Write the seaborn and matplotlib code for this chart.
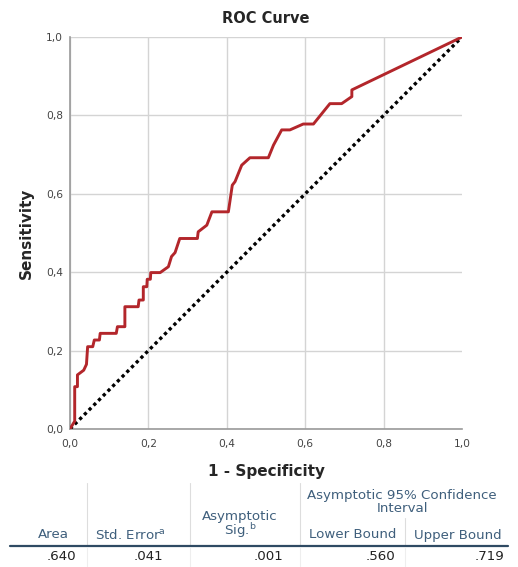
#! /usr/bin/env python3
'''
ROC curve with SPSS-style area-under-curve table
'''
import matplotlib
matplotlib.use('Agg')
import matplotlib.pyplot as plt
from matplotlib.ticker import FuncFormatter
import seaborn as sns

# ROC curve points
FPR = [0.0, 0.012, 0.012, 0.019, 0.019, 0.035, 0.042, 0.045, 0.058, 0.062,
       0.075, 0.077, 0.118, 0.121, 0.140, 0.140, 0.174, 0.176, 0.187, 0.187,
       0.196, 0.197, 0.205, 0.206, 0.230, 0.251, 0.259, 0.268, 0.280, 0.325,
       0.327, 0.349, 0.362, 0.404, 0.414, 0.421, 0.438, 0.459, 0.506, 0.519,
       0.540, 0.561, 0.595, 0.621, 0.646, 0.663, 0.693, 0.719, 0.719, 1.0]
TPR = [0.0, 0.020, 0.108, 0.108, 0.138, 0.150, 0.165, 0.210, 0.210, 0.227,
       0.227, 0.244, 0.244, 0.261, 0.261, 0.312, 0.312, 0.329, 0.329, 0.363,
       0.363, 0.382, 0.382, 0.399, 0.399, 0.414, 0.440, 0.450, 0.486, 0.486,
       0.503, 0.520, 0.554, 0.554, 0.622, 0.631, 0.673, 0.692, 0.692, 0.724,
       0.763, 0.763, 0.778, 0.778, 0.809, 0.830, 0.830, 0.848, 0.865, 1.0]
REF_X = [0.0, 1.0]
REF_Y = [0.0, 1.0]
TICKS = [0.0, 0.2, 0.4, 0.6, 0.8, 1.0]

# table below the chart
HEADERS = ['Area', 'Std. Error$^{\\mathregular{a}}$', 'Asymptotic\nSig.$^{\\mathregular{b}}$',
           'Lower Bound', 'Upper Bound']
VALUES = ['.640', '.041', '.001', '.560', '.719']
CI_HEADER = 'Asymptotic 95% Confidence\nInterval'

W, H = 518, 567
sns.set_style('white')
plt.rcParams['font.family'] = ['DejaVu Sans']

fig = plt.figure(figsize=(W / 100, H / 100), dpi=100)
ax = fig.add_axes([70 / W, 1 - 429 / H, 392 / W, 392 / H])

sns.lineplot(x=REF_X, y=REF_Y, ax=ax, color='black', lw=2.4,
             linestyle=(0, (1, 1)), sort=False, estimator=None, zorder=3)
sns.lineplot(x=FPR, y=TPR, ax=ax, color='#B3262B', lw=2.1,
             sort=False, estimator=None, zorder=4)

ax.set_xlim(0, 1)
ax.set_ylim(0, 1)
ax.set_xticks(TICKS)
ax.set_yticks(TICKS)
fmt = FuncFormatter(lambda v, p: ('%.1f' % v).replace('.', ','))
ax.xaxis.set_major_formatter(fmt)
ax.yaxis.set_major_formatter(fmt)
ax.tick_params(length=0, labelsize=7.7, labelcolor='#444444')
ax.tick_params(axis='x', pad=7)
ax.tick_params(axis='y', pad=5)
ax.grid(True, color='#d4d4d4', lw=1.0)
ax.set_axisbelow(True)
ax.get_xgridlines()[-1].set_visible(False)
for s in ['top', 'right']:
    ax.spines[s].set_visible(False)
for s in ['left', 'bottom']:
    ax.spines[s].set_color('#9a9a9a')
    ax.spines[s].set_linewidth(1.2)

ax.set_title('ROC Curve', fontsize=10.5, fontweight='bold', pad=10)
ax.set_xlabel('1 - Specificity', fontsize=11, fontweight='bold', labelpad=11)
ax.set_ylabel('Sensitivity', fontsize=11, fontweight='bold', labelpad=9)

# table
hc = '#3f5f7c'
tfs = 9.6
def fx(px): return px / W
def fy(py): return 1 - py / H
head_x = [53, 130, 240, 353, 458]
val_x = [76, 163, 283, 395, 505]
fig.text(fx(402), fy(502), CI_HEADER, ha='center', va='center', fontsize=tfs,
         color=hc, linespacing=1.0)
for i, (hd, v) in enumerate(zip(HEADERS, VALUES)):
    yy = 525 if i == 2 else 535
    fig.text(fx(head_x[i]), fy(yy), hd, ha='center', va='center', fontsize=tfs,
             color=hc, linespacing=0.9)
    fig.text(fx(val_x[i]), fy(556), v, ha='right', va='center', fontsize=tfs,
             color='#222222')
# separators
for x0, y0 in [(87, 483), (190, 483), (300, 483), (405, 518)]:
    fig.add_artist(plt.Line2D([fx(x0), fx(x0)], [fy(y0), fy(545)], color='#dddddd', lw=0.8))
    fig.add_artist(plt.Line2D([fx(x0), fx(x0)], [fy(548), fy(566)], color='#eeeeee', lw=0.8))
fig.add_artist(plt.Line2D([fx(10), fx(508)], [fy(546), fy(546)], color='#2f4a63', lw=1.6))

fig.savefig('out.png', dpi=100)
